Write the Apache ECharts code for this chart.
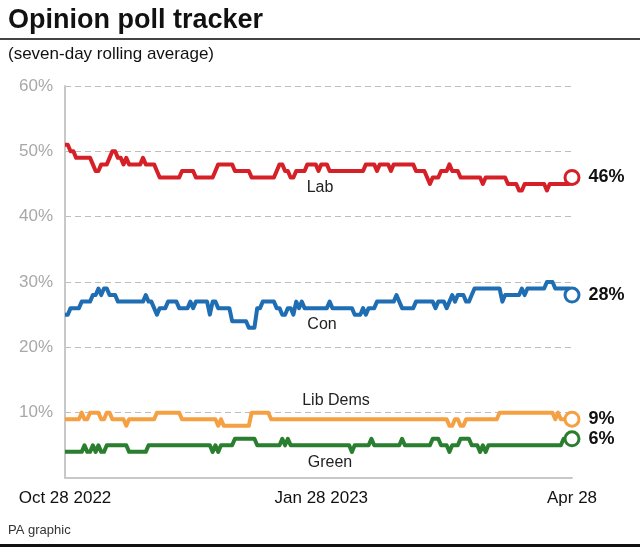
<!DOCTYPE html>
<html>
<head>
<meta charset="utf-8">
<script src="https://cdn.jsdelivr.net/npm/echarts@6/dist/echarts.min.js"></script>
<style>
html,body{margin:0;padding:0;background:#fff;}
#c{width:640px;height:548px;}
</style>
</head>
<body>
<div id="c"></div>
<script>
// Data: daily seven-day rolling averages, Oct 28 2022 .. Apr 28 2023 (183 days)
const startDate = '2022-10-28';
const tickLabels = {0: 'Oct 28 2022', 92: 'Jan 28 2023', 182: 'Apr 28'};
const yTicks = [10, 20, 30, 40, 50, 60];

const lab = [
51,51,50,50,49,49,49,49,49,49,
48,47,47,48,48,48,49,50,50,49,
49,48,49,48,48,48,48,48,49,48,
48,48,48,47,46,46,46,46,46,46,
46,46,47,47,47,47,47,46,46,46,
46,46,46,46,47,48,48,48,48,48,
48,47,47,47,47,47,47,46,46,46,
46,46,46,46,46,46,47,48,48,47,
47,46,46,47,47,47,47,48,48,48,
48,47,48,48,48,47,47,47,47,47,
47,47,47,47,47,47,47,47,48,48,
48,48,47,48,48,48,48,47,48,48,
48,48,48,48,48,48,47,47,47,47,
46,45,46,46,46,47,47,47,48,47,
47,47,46,46,46,46,46,46,46,46,
45,46,46,46,46,46,46,46,46,45,
45,45,45,44,44,45,45,45,45,45,
45,45,45,44,45,45,45,45,45,45,
45,45,46];

const con = [
25,25,26,26,26,26,27,27,27,27,
28,28,29,28,29,29,28,28,28,27,
27,27,27,27,27,27,27,27,27,28,
27,27,26,25,26,26,26,27,27,27,
27,26,26,26,26,27,26,27,27,27,
27,27,25,27,27,26,26,26,26,26,
24,24,24,24,24,24,23,23,23,26,
26,27,27,27,27,27,26,26,25,25,
26,26,25,27,26,27,26,26,26,26,
26,26,26,26,26,27,26,26,26,26,
26,26,26,26,25,25,25,26,25,26,
26,26,27,27,27,27,27,27,27,28,
27,26,26,26,26,26,27,27,27,27,
27,27,27,26,27,27,27,26,27,28,
27,28,28,28,27,27,28,29,29,29,
29,29,29,29,29,29,29,27,28,28,
28,28,28,28,29,28,29,29,29,29,
29,29,29,30,30,30,29,29,29,29,
29,29,28];

const libDems = [
9,9,9,9,9,9,10,9,9,10,
10,10,10,9,9,10,10,9,9,9,
9,9,8,9,9,9,9,9,9,9,
9,9,9,10,10,10,10,10,10,10,
10,10,9,9,9,9,9,9,9,9,
9,9,9,9,9,8,9,8,8,8,
8,8,8,8,8,8,8,10,10,10,
10,10,10,10,9,9,9,9,9,9,
9,9,9,9,9,9,9,9,9,9,
9,9,9,9,9,9,9,9,9,9,
9,9,9,9,9,9,9,9,9,9,
9,9,9,9,9,9,9,9,9,9,
9,9,9,9,9,9,9,9,9,9,
9,9,9,9,9,9,9,9,8,8,
9,9,8,8,9,9,9,9,9,9,
9,9,9,9,9,9,10,10,10,10,
10,10,10,10,10,10,10,10,10,10,
10,10,10,10,10,10,9,10,9,9,
9,9,9];

const green = [
4,4,4,4,4,4,4,5,4,4,
5,4,5,4,4,5,5,5,5,5,
5,5,5,4,4,4,4,4,4,4,
5,5,5,5,5,5,5,5,5,5,
5,5,5,5,5,5,5,5,5,5,
5,5,5,4,5,4,5,5,5,5,
5,6,6,6,6,6,6,6,6,5,
5,5,5,5,5,5,5,5,6,5,
6,5,5,5,5,5,5,5,5,5,
5,5,5,5,5,5,5,5,5,5,
5,5,5,4,5,5,5,5,5,5,
6,5,5,5,5,5,5,5,5,5,
5,6,5,5,5,5,5,5,5,5,
5,5,6,6,6,5,5,5,4,5,
5,5,6,6,6,6,5,5,5,4,
5,4,5,5,5,5,5,5,5,5,
5,5,5,5,5,5,5,5,5,5,
5,5,5,5,5,5,5,5,5,6,
6,6,6];

const seriesNames = ['Lab', 'Con', 'Lib Dems', 'Green'];
const seriesColors = ['#d62027', '#1f6db3', '#f5a042', '#2a7e2f'];
const seriesData = [lab, con, libDems, green];

// category dates
const categories = [];
{
  const d0 = new Date(startDate + 'T12:00:00Z');
  for (let i = 0; i < lab.length; i++) {
    const d = new Date(d0.getTime() + i * 86400000);
    categories.push(d.toISOString().slice(0, 10));
  }
}

const FONT = '"Liberation Sans", Arial, sans-serif';

const chart = echarts.init(document.getElementById('c'), null, {renderer: 'canvas'});

const series = seriesData.map((data, i) => ({
  name: seriesNames[i],
  type: 'line',
  data: data,
  showSymbol: false,
  symbol: 'none',
  lineStyle: {color: seriesColors[i], width: 4, join: 'round'},
  itemStyle: {color: seriesColors[i]},
  z: 3,
  markPoint: {
    symbol: 'circle',
    symbolSize: 14,
    silent: true,
    z: 20,
    itemStyle: {color: '#ffffff', borderColor: seriesColors[i], borderWidth: 3},
    label: {
      show: true,
      position: 'right',
      distance: 8,
      formatter: data[data.length - 1] + '%',
      color: '#111',
      fontFamily: FONT,
      fontWeight: 'bold',
      fontSize: 18
    },
    data: [{coord: [data.length - 1, data[data.length - 1]]}]
  }
}));

const option = {
  animation: false,
  backgroundColor: '#fff',
  grid: {left: 65, right: 68, top: 86, bottom: 70, containLabel: false},
  xAxis: {
    type: 'category',
    data: categories,
    boundaryGap: false,
    axisLine: {show: true, lineStyle: {color: '#c8c8c8', width: 2}},
    axisTick: {show: false},
    axisLabel: {
      interval: 0,
      showMinLabel: true,
      showMaxLabel: true,
      formatter: (v, idx) => tickLabels[idx] || '',
      color: '#111',
      fontFamily: FONT,
      fontSize: 17,
      margin: 12
    },
    splitLine: {show: false}
  },
  yAxis: {
    type: 'value',
    min: 0,
    max: 60,
    interval: 10,
    axisLine: {show: true, lineStyle: {color: '#c8c8c8', width: 2}},
    axisTick: {show: false},
    axisLabel: {
      formatter: v => (yTicks.indexOf(v) >= 0 ? v + '%' : ''),
      color: '#a8a8a8',
      fontFamily: FONT,
      fontSize: 17,
      margin: 12
    },
    splitLine: {show: true, lineStyle: {color: '#bdbdbd', type: [6, 4], width: 1}}
  },
  series: series,
  graphic: [
    {type: 'text', left: 8, top: 7, style: {text: 'Opinion poll tracker', font: 'bold 27px ' + FONT, fill: '#111'}},
    {type: 'rect', shape: {x: 0, y: 38, width: 640, height: 2}, style: {fill: '#444'}},
    {type: 'text', left: 8, top: 46, style: {text: '(seven-day rolling average)', font: '17px ' + FONT, fill: '#111'}},
    {type: 'text', left: 8, top: 524, style: {text: 'PA graphic', font: '13px ' + FONT, fill: '#333'}},
    {type: 'rect', shape: {x: 0, y: 544, width: 640, height: 3}, style: {fill: '#111'}},
    {type: 'text', x: 320, y: 188, style: {text: 'Lab', font: '16px ' + FONT, fill: '#222', align: 'center', verticalAlign: 'middle'}},
    {type: 'text', x: 322, y: 325, style: {text: 'Con', font: '16px ' + FONT, fill: '#222', align: 'center', verticalAlign: 'middle'}},
    {type: 'text', x: 336, y: 401, style: {text: 'Lib Dems', font: '16px ' + FONT, fill: '#222', align: 'center', verticalAlign: 'middle'}},
    {type: 'text', x: 330, y: 463, style: {text: 'Green', font: '16px ' + FONT, fill: '#222', align: 'center', verticalAlign: 'middle'}}
  ]
};

chart.setOption(option);
</script>
</body>
</html>
